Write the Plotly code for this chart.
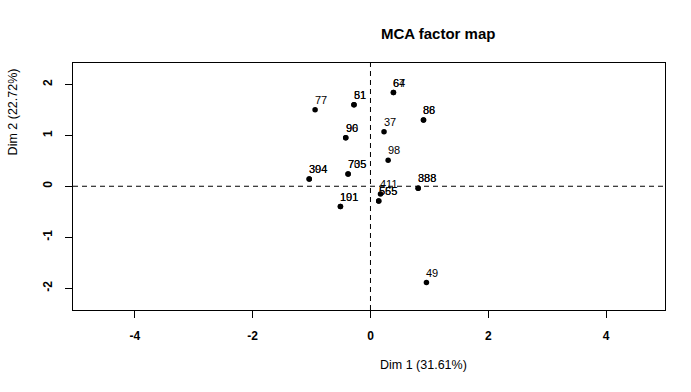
import plotly.graph_objects as go

# Individuals (labels) and coordinates on Dim 1 / Dim 2
labels = ["77", "81", "51", "67", "64", "88", "86", "37", "90", "96", "98",
          "304", "394", "705", "735", "388", "888", "411", "555", "565",
          "101", "191", "49"]
dim1 = [-0.94, -0.28, -0.28, 0.39, 0.39, 0.90, 0.90, 0.23, -0.42, -0.42, 0.30,
        -1.04, -1.04, -0.38, -0.38, 0.81, 0.81, 0.17, 0.14, 0.14,
        -0.51, -0.51, 0.95]
dim2 = [1.50, 1.60, 1.60, 1.84, 1.84, 1.30, 1.30, 1.07, 0.95, 0.95, 0.51,
        0.14, 0.14, 0.24, 0.24, -0.04, -0.04, -0.15, -0.29, -0.29,
        -0.40, -0.40, -1.89]

x_ticks = [-4, -2, 0, 2, 4]
x_ticklabels = ["-4", "-2", "0", "2", "4"]
y_ticks = [-2, -1, 0, 1, 2]
y_ticklabels = ["-2", "-1", "0", "1", "2"]
x_range = [-5.05, 5.0]
y_range = [-2.43, 2.42]

title_text = "MCA factor map"
x_title = "Dim 1 (31.61%)"
y_title = "Dim 2 (22.72%)"

font_family = "Liberation Sans, Arial, sans-serif"

fig = go.Figure()
fig.add_trace(go.Scatter(
    x=dim1, y=dim2, mode="markers",
    marker=dict(color="black", size=5.5),
    cliponaxis=False, showlegend=False, text=labels, hoverinfo="text"))

for lab, xv, yv in zip(labels, dim1, dim2):
    fig.add_annotation(x=xv, y=yv, text=lab, showarrow=False,
                       xanchor="left", yanchor="middle", xshift=-2, yshift=10,
                       font=dict(family=font_family, size=11, color="black"))

# dashed reference lines at 0
fig.add_shape(type="line", xref="paper", yref="y", x0=0, x1=1, y0=0, y1=0,
              line=dict(color="black", width=1, dash="5px,4px"))
fig.add_shape(type="line", xref="x", yref="paper", x0=0, x1=0, y0=0, y1=1,
              line=dict(color="black", width=1, dash="5px,4px"))

axis_common = dict(showgrid=False, zeroline=False, showline=True, mirror=True,
                   linecolor="black", linewidth=1, ticks="outside", ticklen=7,
                   tickcolor="black", tickwidth=1,
                   tickfont=dict(family=font_family, size=12, color="black",
                                 weight="bold"))

fig.update_xaxes(range=x_range, tickvals=x_ticks, ticktext=x_ticklabels,
                 ticklabelstandoff=8, **axis_common)
fig.update_yaxes(range=y_range, tickvals=y_ticks, ticktext=y_ticklabels,
                 tickangle=-90, ticklabelstandoff=8, **axis_common)

fig.add_annotation(text=title_text, xref="paper", yref="paper", x=0.617, y=1,
                   yshift=30, showarrow=False, xanchor="center", yanchor="middle",
                   font=dict(family=font_family, size=15, color="black",
                             weight="bold"))
fig.add_annotation(text=x_title, xref="paper", yref="paper", x=0.592, y=0,
                   yshift=-55, showarrow=False, xanchor="center", yanchor="middle",
                   font=dict(family=font_family, size=12.5, color="black"))
fig.add_annotation(text=y_title, xref="paper", yref="paper", x=0, y=0.80,
                   xshift=-60, showarrow=False, xanchor="center", yanchor="middle",
                   textangle=-90,
                   font=dict(family=font_family, size=12.5, color="black"))

fig.update_layout(width=691, height=392, plot_bgcolor="white",
                  paper_bgcolor="white",
                  margin=dict(l=73, r=26, t=63, b=82))

fig.write_html("out.html",
               config={"displayModeBar": False},
               post_script="document.body.style.margin='0';")
